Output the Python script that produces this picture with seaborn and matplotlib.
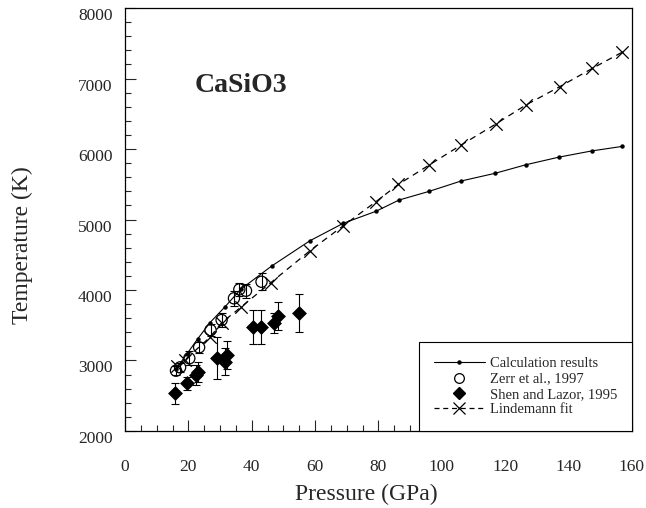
import numpy as np
import pandas as pd
import matplotlib
matplotlib.use("Agg")
import matplotlib.pyplot as plt
import matplotlib.transforms as mtransforms
from matplotlib.lines import Line2D
from matplotlib.ticker import MultipleLocator
import seaborn as sns

# Melting curve of CaSiO3 perovskite
calc_p = [16.1, 19.5, 23.0, 26.8, 31.6, 36.5, 46.3, 58.4, 68.9, 79.2, 86.5,
          96.0, 106.1, 116.8, 126.5, 137.0, 147.5, 157.0]
calc_t = [2880, 3090, 3310, 3536, 3763, 4009, 4340, 4699, 4946, 5116, 5276,
          5399, 5546, 5655, 5776, 5885, 5974, 6037]

lind_p = [16.5, 18.9, 26.8, 30.5, 36.5, 46.0, 58.4, 68.9, 79.2, 86.3, 96.0,
          106.1, 117.0, 126.5, 137.2, 147.5, 157.0]
lind_t = [2922, 3007, 3329, 3536, 3753, 4103, 4557, 4911, 5252, 5498, 5772,
          6056, 6353, 6623, 6883, 7143, 7374]

zerr_p = [16.1, 17.4, 20.3, 23.4, 27.0, 30.5, 34.4, 36.1, 38.2, 43.1]
zerr_t = [2855, 2903, 3031, 3187, 3432, 3574, 3882, 4009, 3989, 4117]
zerr_err = [60, 60, 100, 80, 90, 100, 110, 90, 100, 120]

shen_p = [15.8, 19.5, 22.4, 23.1, 29.1, 31.5, 32.1, 40.3, 42.9, 47.0, 48.4, 55.0]
shen_t = [2535, 2676, 2794, 2841, 3031, 2983, 3078, 3479, 3479, 3536, 3631, 3678]
shen_err = [150, 90, 140, 140, 300, 190, 200, 240, 240, 140, 200, 270]

legend_labels = ["Calculation results", "Zerr et al., 1997",
                 "Shen and Lazor, 1995", "Lindemann fit"]

sns.set_style("ticks")
plt.rcParams["font.family"] = ["Liberation Serif", "DejaVu Serif"]

fig = plt.figure(figsize=(6.46, 5.08), dpi=100)
ax = fig.add_axes([0.1935, 0.1516, 0.7845, 0.8326])

calc = pd.DataFrame({"P": calc_p, "T": calc_t})
lind = pd.DataFrame({"P": lind_p, "T": lind_t})
zerr = pd.DataFrame({"P": zerr_p, "T": zerr_t, "err": zerr_err})
shen = pd.DataFrame({"P": shen_p, "T": shen_t, "err": shen_err})

sns.lineplot(data=calc, x="P", y="T", ax=ax, color="black", lw=0.8,
             marker="o", markersize=3.2, markeredgewidth=0, sort=False)
sns.lineplot(data=lind, x="P", y="T", ax=ax, color="black", lw=0.9,
             dashes=False, sort=False)
ax.lines[-1].set_dashes([5, 4])
sns.scatterplot(data=lind, x="P", y="T", ax=ax, marker="x", s=80,
                color="black", linewidth=0.9)

# error bars, then the symbols on top
ax.errorbar(zerr["P"], zerr["T"], yerr=zerr["err"], fmt="none",
            ecolor="black", elinewidth=0.8, capsize=3, capthick=0.8)
ax.errorbar(shen["P"], shen["T"], yerr=shen["err"], fmt="none",
            ecolor="black", elinewidth=0.8, capsize=3, capthick=0.8)
sns.scatterplot(data=zerr, x="P", y="T", ax=ax, marker="o", s=65,
                facecolor="none", edgecolor="black", linewidth=0.9, zorder=4)
sns.scatterplot(data=shen, x="P", y="T", ax=ax, marker="D", s=50,
                color="black", edgecolor="black", linewidth=0.5, zorder=4)

ax.set_xlim(0, 160)
ax.set_ylim(2000, 8000)
ax.xaxis.set_major_locator(MultipleLocator(20))
ax.xaxis.set_minor_locator(MultipleLocator(5))
ax.yaxis.set_major_locator(MultipleLocator(1000))
ax.yaxis.set_minor_locator(MultipleLocator(200))
ax.tick_params(which="both", direction="in", top=False, right=False,
               labelsize=12.5, width=0.8)
ax.tick_params(axis="x", which="major", pad=20)
ax.tick_params(axis="y", which="major", pad=9)
ax.tick_params(which="major", length=8)
ax.tick_params(which="minor", length=4.5)
for s in ax.spines.values():
    s.set_linewidth(0.9)
    s.set_color("black")

# y tick labels sit slightly below their ticks
shift = mtransforms.ScaledTranslation(0, -6 / 100, fig.dpi_scale_trans)
for lab in ax.get_yticklabels():
    lab.set_transform(lab.get_transform() + shift)

ax.set_xlabel("Pressure (GPa)", fontsize=17, va="center")
ax.set_ylabel("Temperature (K)", fontsize=17, va="center")
ax.xaxis.set_label_coords(0.477, -0.151)
ax.yaxis.set_label_coords(-0.203, 0.44)

ax.text(22, 6900, "CaSiO3", fontsize=20, fontweight="bold",
        ha="left", va="center")

handles = [
    Line2D([], [], color="black", lw=0.8, marker="o", markersize=3.2,
           markeredgewidth=0),
    Line2D([], [], color="black", lw=0, marker="o", markersize=7,
           markerfacecolor="none", markeredgewidth=0.9),
    Line2D([], [], color="black", lw=0, marker="D", markersize=6),
    Line2D([], [], color="black", lw=0.9, ls=(0, (4, 3)), marker="x",
           markersize=8, markeredgewidth=0.9),
]
leg = ax.legend(handles, legend_labels, loc="lower right", fontsize=10.5,
                frameon=True, fancybox=False, edgecolor="black",
                framealpha=1, borderaxespad=0, handlelength=3.5,
                handletextpad=0.35, borderpad=1.0, labelspacing=0.15)
leg.get_frame().set_linewidth(0.8)

fig.savefig("out.png", dpi=100)
